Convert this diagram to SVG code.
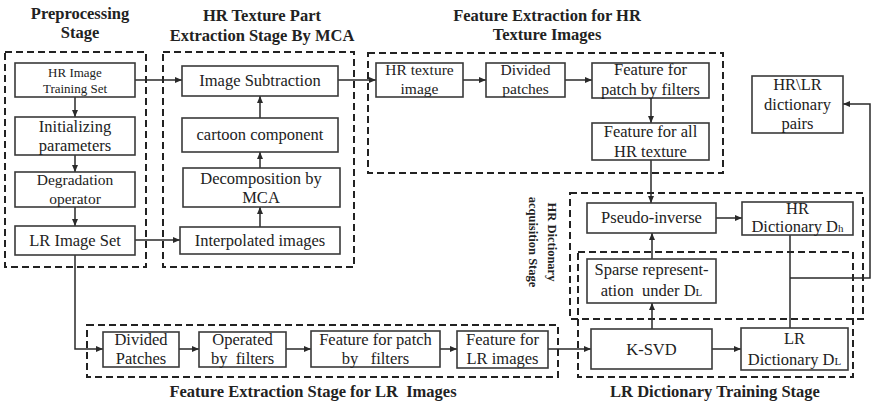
<svg xmlns="http://www.w3.org/2000/svg" width="871" height="406" viewBox="0 0 871 406">
<defs>
<marker id="arr" markerWidth="7" markerHeight="6" refX="7" refY="3" orient="auto" markerUnits="userSpaceOnUse">
<path d="M0,0 L7,3 L0,6 Z" fill="#2a2a2a"/>
</marker>
<style>
.box{fill:#fff;stroke:#3a3a3a;stroke-width:1.6}
.stage{fill:none;stroke:#222;stroke-width:2;stroke-dasharray:7 4}
.t{font-family:"Liberation Serif","Times New Roman",serif;font-size:16.5px;fill:#222;text-anchor:middle}
.s{font-size:13px}
.m{font-size:15.5px}
.sub{font-size:11px}
.title{font-family:"Liberation Serif","Times New Roman",serif;font-size:16.5px;font-weight:bold;fill:#222;text-anchor:middle}
.rt{font-size:12.5px}
.c{fill:none;stroke:#2a2a2a;stroke-width:1.5}
.a{marker-end:url(#arr)}
</style>
</defs>
<rect width="871" height="406" fill="#fff"/>

<g id="stages">
<rect class="stage" x="5" y="52" width="141" height="215"/>
<rect class="stage" x="163" y="52" width="191" height="215"/>
<rect class="stage" x="368" y="53" width="355" height="120"/>
<rect class="stage" x="570" y="193" width="293" height="126"/>
<rect class="stage" x="578" y="252" width="275" height="125"/>
<rect class="stage" x="87" y="325" width="471" height="52"/>
</g>

<g id="titles">
<text class="title" x="80" y="19">Preprocessing</text>
<text class="title" x="80" y="38">Stage</text>
<text class="title" x="262" y="21">HR Texture Part</text>
<text class="title" x="262" y="41">Extraction Stage By MCA</text>
<text class="title" x="547" y="21">Feature Extraction for HR</text>
<text class="title" x="547" y="40">Texture Images</text>
<g transform="translate(548,242) rotate(90)">
<text class="title rt" x="0" y="0">HR Dictionary</text>
<text class="title rt" x="0" y="19">acquisition Stage</text>
</g>
<text class="title" x="313" y="397" xml:space="preserve">Feature Extraction Stage for LR  Images</text>
<text class="title" x="715" y="397">LR Dictionary Training Stage</text>
</g>

<g id="connectors">
<path class="c a" d="M75,97 V117"/>
<path class="c a" d="M75,155 V172"/>
<path class="c a" d="M75,207 V226"/>
<path class="c a" d="M135,80 H182"/>
<path class="c a" d="M135,240 H180"/>
<path class="c a" d="M260,227 V207"/>
<path class="c a" d="M260,168 V152"/>
<path class="c a" d="M260,118 V96"/>
<path class="c a" d="M338,80 H376"/>
<path class="c a" d="M463,80 H486"/>
<path class="c a" d="M565,80 H592"/>
<path class="c a" d="M651,98 V123"/>
<path class="c a" d="M651,160 V203"/>
<path class="c a" d="M652,259 V233"/>
<path class="c a" d="M652,329 V303"/>
<path class="c a" d="M716,218 H742"/>
<path class="c a" d="M712,349 H741"/>
<path class="c a" d="M75,255 V349 H103"/>
<path class="c a" d="M179,349 H199"/>
<path class="c a" d="M286,349 H311"/>
<path class="c a" d="M440,349 H457"/>
<path class="c a" d="M548,349 H591"/>
<path class="c" d="M790,235 V328"/>
<path class="c a" d="M790,278 H870 V104 H843"/>
</g>

<g id="hr-training-set">
<rect class="box" x="15" y="63" width="120" height="34"/>
<text class="t s" x="75" y="77">HR Image</text>
<text class="t s" x="75" y="93">Training Set</text>
</g>
<g id="initializing">
<rect class="box" x="15" y="117" width="120" height="38"/>
<text class="t" x="75" y="132">Initializing</text>
<text class="t" x="75" y="151">parameters</text>
</g>
<g id="degradation">
<rect class="box" x="15" y="172" width="120" height="35"/>
<text class="t m" x="75" y="185">Degradation</text>
<text class="t m" x="75" y="204">operator</text>
</g>
<g id="lr-image-set">
<rect class="box" x="15" y="226" width="120" height="29"/>
<text class="t" x="75" y="246">LR Image Set</text>
</g>

<g id="image-subtraction">
<rect class="box" x="182" y="66" width="156" height="30"/>
<text class="t" x="260" y="86">Image Subtraction</text>
</g>
<g id="cartoon">
<rect class="box" x="182" y="118" width="156" height="34"/>
<text class="t" x="260" y="140">cartoon component</text>
</g>
<g id="decomposition">
<rect class="box" x="183" y="168" width="157" height="39"/>
<text class="t" x="261" y="184">Decomposition by</text>
<text class="t" x="261" y="203">MCA</text>
</g>
<g id="interpolated">
<rect class="box" x="180" y="227" width="160" height="27"/>
<text class="t" x="260" y="246">Interpolated images</text>
</g>

<g id="hr-texture-image">
<rect class="box" x="376" y="63" width="87" height="34"/>
<text class="t m" x="419.5" y="75">HR texture</text>
<text class="t m" x="419.5" y="94">image</text>
</g>
<g id="divided-patches-hr">
<rect class="box" x="486" y="63" width="79" height="34"/>
<text class="t m" x="525.5" y="75">Divided</text>
<text class="t m" x="525.5" y="94">patches</text>
</g>
<g id="feature-patch-hr">
<rect class="box" x="592" y="63" width="117" height="35"/>
<text class="t" x="650.5" y="75">Feature for</text>
<text class="t" x="650.5" y="95">patch by filters</text>
</g>
<g id="feature-all-hr">
<rect class="box" x="592" y="123" width="117" height="37"/>
<text class="t" x="650.5" y="137">Feature for all</text>
<text class="t" x="650.5" y="157">HR texture</text>
</g>
<g id="dictionary-pairs">
<rect class="box" x="752" y="76" width="91" height="57"/>
<text class="t" x="797.5" y="90">HR\LR</text>
<text class="t" x="797.5" y="110">dictionary</text>
<text class="t" x="797.5" y="129">pairs</text>
</g>

<g id="pseudo-inverse">
<rect class="box" x="587" y="203" width="129" height="30"/>
<text class="t" x="651.5" y="223">Pseudo-inverse</text>
</g>
<g id="hr-dictionary">
<rect class="box" x="742" y="202" width="111" height="33"/>
<text class="t" x="797.5" y="214">HR</text>
<text class="t" x="797.5" y="232">Dictionary D<tspan class="sub">h</tspan></text>
</g>
<g id="sparse">
<rect class="box" x="587" y="259" width="129" height="44"/>
<text class="t" x="651.5" y="275">Sparse represent-</text>
<text class="t" x="651.5" y="296" xml:space="preserve">ation  under D<tspan class="sub">L</tspan></text>
</g>
<g id="k-svd">
<rect class="box" x="591" y="329" width="121" height="40"/>
<text class="t" x="651.5" y="355">K-SVD</text>
</g>
<g id="lr-dictionary">
<rect class="box" x="741" y="328" width="107" height="42"/>
<text class="t" x="794.5" y="344">LR</text>
<text class="t" x="794.5" y="365">Dictionary D<tspan class="sub">L</tspan></text>
</g>

<g id="divided-patches-lr">
<rect class="box" x="103" y="332" width="76" height="35"/>
<text class="t" x="141" y="345">Divided</text>
<text class="t" x="141" y="364">Patches</text>
</g>
<g id="operated">
<rect class="box" x="199" y="332" width="87" height="35"/>
<text class="t" x="242.5" y="345">Operated</text>
<text class="t" x="242.5" y="364" xml:space="preserve">by  filters</text>
</g>
<g id="feature-patch-lr">
<rect class="box" x="311" y="331" width="129" height="36"/>
<text class="t" x="375.5" y="345">Feature for patch</text>
<text class="t" x="375.5" y="364" xml:space="preserve">by   filters</text>
</g>
<g id="feature-lr">
<rect class="box" x="457" y="331" width="91" height="37"/>
<text class="t" x="502.5" y="345">Feature for</text>
<text class="t" x="502.5" y="364">LR images</text>
</g>
</svg>
